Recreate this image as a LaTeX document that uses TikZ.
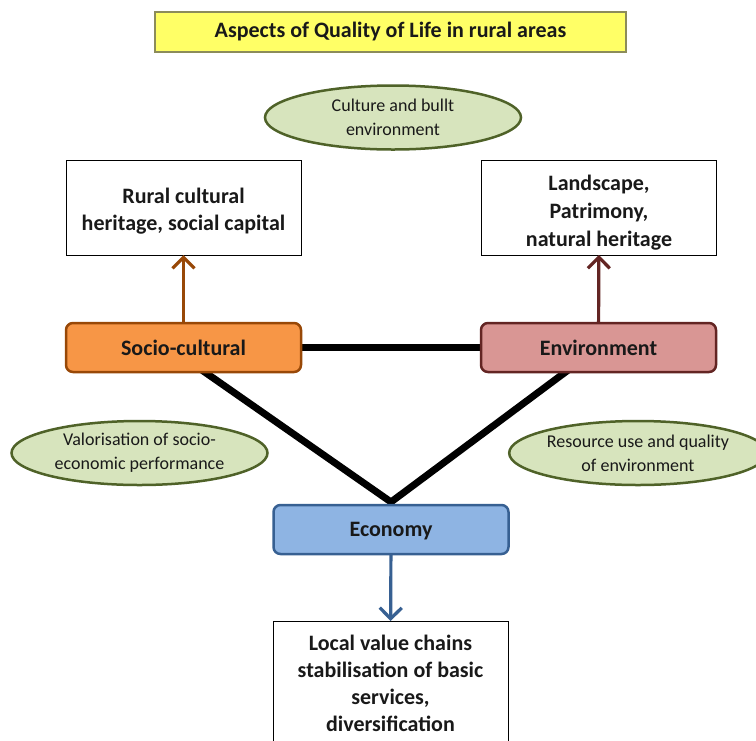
\documentclass[tikz,border=0pt]{standalone}
\usepackage{fontspec}
\setmainfont{Carlito}
\usetikzlibrary{arrows.meta,shapes.geometric,backgrounds}

\definecolor{titlefill}{HTML}{FFFF66}
\definecolor{titledraw}{HTML}{8C8C5A}
\definecolor{ellfill}{HTML}{D7E4BD}
\definecolor{elldraw}{HTML}{4F6228}
\definecolor{socfill}{HTML}{F79646}
\definecolor{socdraw}{HTML}{984807}
\definecolor{envfill}{HTML}{D99694}
\definecolor{envdraw}{HTML}{632523}
\definecolor{ecofill}{HTML}{8EB4E3}
\definecolor{ecodraw}{HTML}{376092}

\begin{document}
\begin{tikzpicture}[x=1pt,y=-1pt,
  every node/.style={inner sep=0pt, outer sep=0pt, text=black!90},
  bigfont/.style={font=\fontsize{22}{27}\selectfont\bfseries},
  titlebox/.style={draw=titledraw, fill=titlefill, line width=1.2pt,
    minimum width=471, minimum height=40, bigfont},
  outcome/.style={draw=black, line width=0.8pt, fill=white,
    minimum width=235, minimum height=95, align=center, bigfont},
  pillar/.style={rounded corners=7pt, line width=2.5pt,
    minimum width=235, minimum height=49, bigfont},
  aspect/.style={ellipse, draw=elldraw, fill=ellfill, line width=2.5pt,
    minimum width=256, minimum height=64, inner ysep=-6pt, align=center,
    font=\fontsize{18}{24}\selectfont},
  link/.style={line width=7pt, draw=black},
  pointer/.style={line width=3.2pt, -{Straight Barb[length=11pt,width=22pt]}}
]
\clip (0,0) rectangle (756,740);

\node[titlebox] (title) at (390.5,32) {Aspects of Quality of Life in rural areas};

\node[aspect] (ell1) at (393,117.5) {Culture and bullt\\environment};
\node[aspect] (ell2) at (139.5,453) {Valorisation of socio-\\economic performance};
\node[aspect] (ell3) at (638,453) {Resource use and quality\\of environment};

\node[outcome] (rural) at (183.5,207.5) {\rule{0pt}{22pt}Rural cultural\\heritage, social capital};
\node[outcome] (land) at (599,207.5) {\rule{0pt}{25pt}Landscape,\\[1pt]Patrimony,\\[1pt]natural heritage};

\node[pillar, draw=socdraw, fill=socfill] (soc) at (183.5,347.5) {Socio-cultural};
\node[pillar, draw=envdraw, fill=envfill] (env) at (598.5,347.5) {Environment};
\node[pillar, draw=ecodraw, fill=ecofill] (eco) at (391,529.5) {\rule{0pt}{18pt}Economy};

\node[outcome, minimum height=124] (local) at (390.5,683)
  {Local value chains\\stabilisation of basic\\services,\\diversification};

\begin{scope}[on background layer]
  \fill[white] (0,0) rectangle (756,740);
  \draw[link] (soc.center) -- (env.center);
  \draw[link, line join=miter] ([xshift=-14pt]soc.center) -- ([yshift=3pt]eco.north) -- (env.center);
\end{scope}

\draw[pointer, socdraw] (soc) -- (rural);
\draw[pointer, envdraw] (env) -- (land);
\draw[pointer, ecodraw] (eco) -- (local);
\end{tikzpicture}
\end{document}
